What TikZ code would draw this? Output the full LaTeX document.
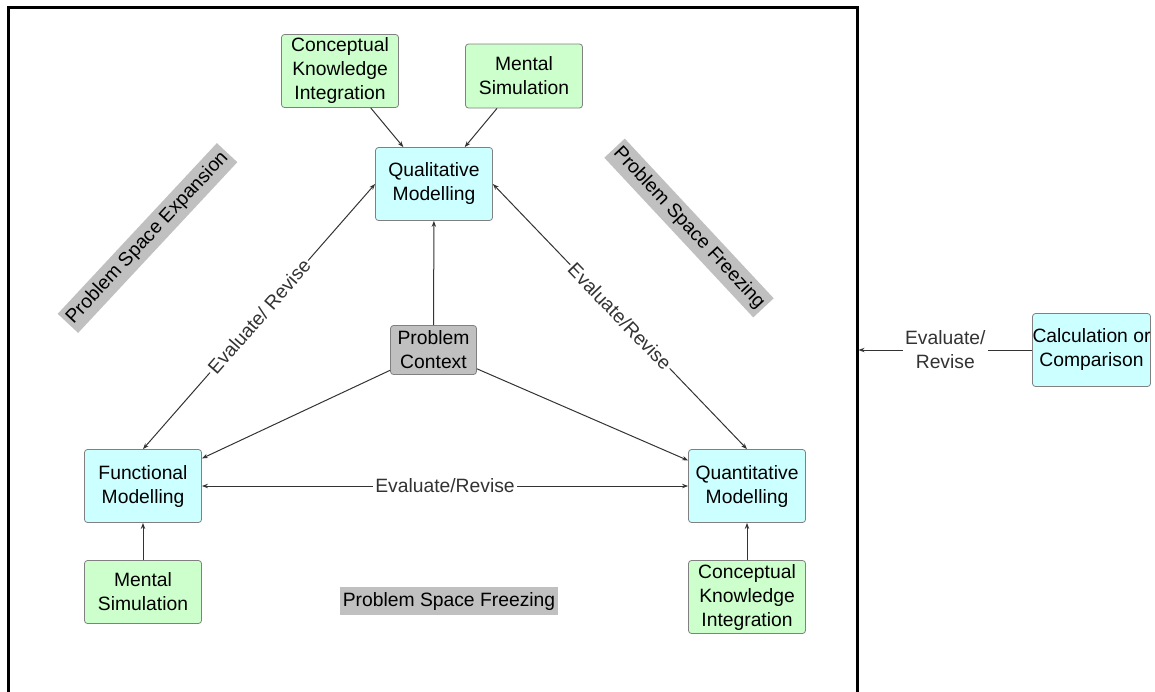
\documentclass[tikz,border=0pt]{standalone}
\usepackage{fontspec}
\setmainfont{Liberation Sans}
\usepackage{xcolor}
\usepackage{tikz}
\usetikzlibrary{arrows.meta, positioning}

\definecolor{modelcyan}{HTML}{CCFFFF}
\definecolor{skillgreen}{HTML}{CCFFCC}
\definecolor{phasegray}{HTML}{C0C0C0}

\begin{document}
\begin{tikzpicture}[
    x=0.5pt, y=-0.5pt,
    every node/.style={font=\fontsize{9.65}{12}\selectfont},
    model/.style={rectangle, rounded corners=1.5pt, draw=black!50, fill=modelcyan, minimum width=58.5pt, minimum height=36.5pt, align=center, inner sep=0pt},
    skill/.style={model, fill=skillgreen},
    contextbox/.style={model, fill=phasegray, minimum width=43pt, minimum height=24.5pt},
    phase/.style={fill=phasegray, inner xsep=1.5pt, inner ysep=2.5pt},
    arrow/.style={-{Stealth[length=3pt, width=2.2pt]}, black!80, line width=0.5pt},
    darrow/.style={{Stealth[length=3pt, width=2.2pt]}-{Stealth[length=3pt, width=2.2pt]}, black!80, line width=0.5pt},
    flowlabel/.style={fill=white, inner sep=1pt, align=center}
]

\useasboundingbox (0,0) rectangle (1155,691);

% Outer frame (bottom edge runs off the page)
\node[draw, line width=1.5pt, inner sep=0pt, minimum width=424.5pt, minimum height=343pt] (frame) at (432.5,350) {};

% Phase labels
\node[phase, rotate=47] (expand) at (147.5,238) {Problem Space Expansion};
\node[phase, rotate=-47] (freeze-top) at (689,228) {Problem Space Freezing};
\node[phase] (freeze-bot) at (449,601) {Problem Space Freezing};

% Modelling nodes
\node[model] (qual) at (434,184) {Qualitative\\Modelling};
\node[model] (func) at (143,486) {Functional\\Modelling};
\node[model] (quant) at (747,486) {Quantitative\\Modelling};
\node[contextbox] (context) at (433.5,350) {Problem\\Context};

% Supporting skills
\node[skill] (cki-top) at (340,71) {Conceptual\\Knowledge\\Integration};
\node[skill, minimum height=32pt] (sim-top) at (524,76) {Mental\\Simulation};
\node[skill, minimum height=31.5pt] (sim-bot) at (143,592) {Mental\\Simulation};
\node[skill] (cki-bot) at (747,597) {Conceptual\\Knowledge\\Integration};

% Outside the frame
\node[model] (calc) at (1091.5,350) {Calculation or\\Comparison};

% Skills into models
\foreach \src in {cki-top,sim-top}
    \draw[arrow] (\src) -- (qual);
\draw[arrow] (sim-bot) -- (func);
\draw[arrow] (cki-bot) -- (quant);

% Context feeds all three models
\foreach \dst in {qual,func,quant}
    \draw[arrow] (context) -- (\dst);

% Evaluate / revise cycle
\draw[darrow] (func.north) -- node[flowlabel, sloped] {Evaluate/ Revise} (qual.west);
\draw[darrow] (qual.east) -- node[flowlabel, sloped] {Evaluate/Revise} (quant.north);
\draw[darrow] (func) -- node[flowlabel] {Evaluate/Revise} (quant);
\draw[arrow] (calc) -- node[flowlabel] {Evaluate/\\Revise} (frame);

\end{tikzpicture}
\end{document}
